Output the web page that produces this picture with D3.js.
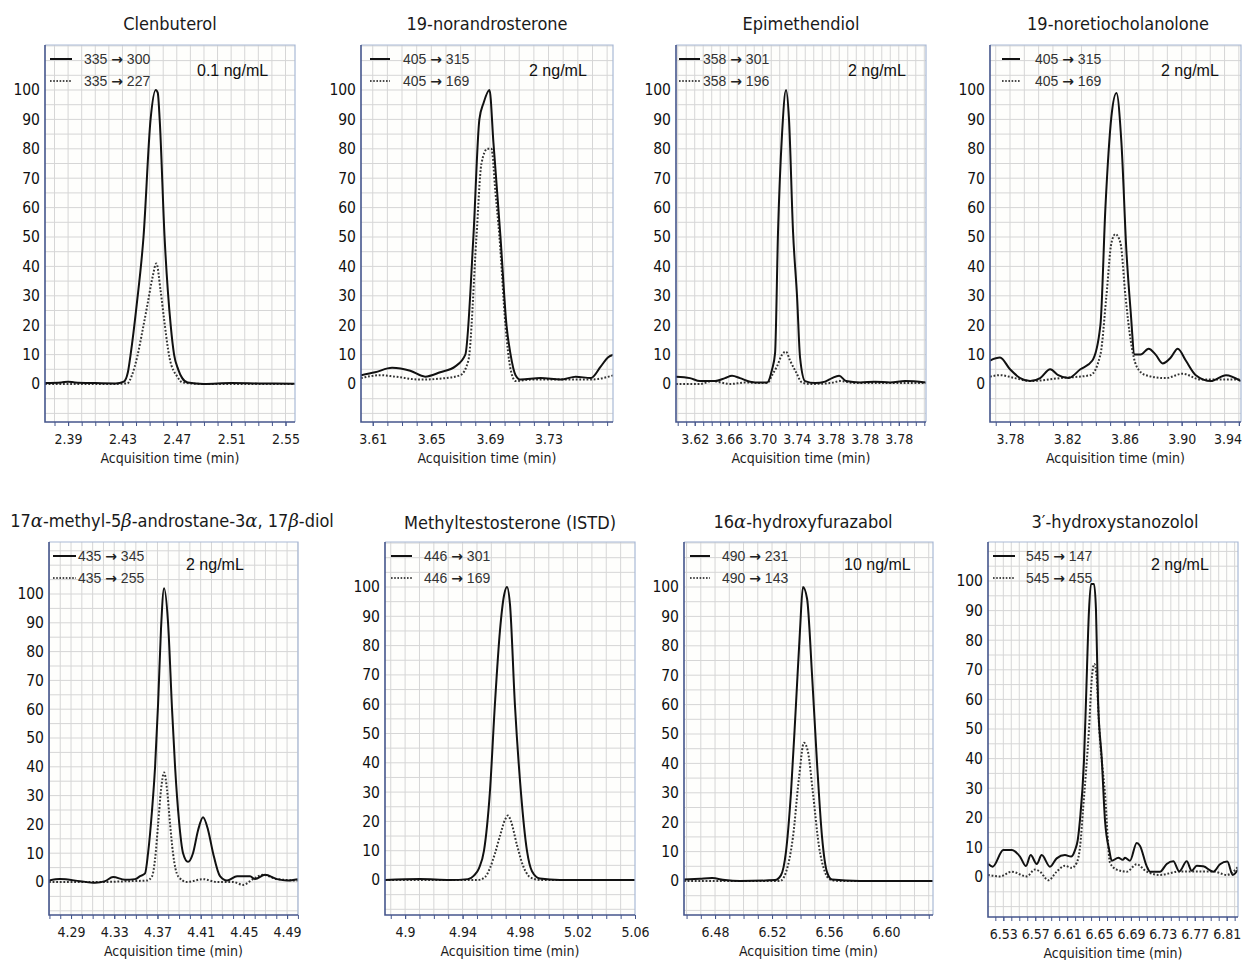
<!DOCTYPE html>
<html>
<head>
<meta charset="utf-8">
<script src="https://cdn.jsdelivr.net/npm/d3@7"></script>
<style>
  body { margin: 0; background: #fff; }
</style>
</head>
<body>
<div id="chart"></div>
<script>
// ---- data (time in min, abundance in %) ----
const compounds = ["Clenbuterol", "19-norandrosterone", "Epimethendiol", "19-noretiocholanolone",
  "17α-methyl-5β-androstane-3α, 17β-diol", "Methyltestosterone (ISTD)", "16α-hydroxyfurazabol", "3′-hydroxystanozolol"];
const transitions = [["335 → 300", "335 → 227"], ["405 → 315", "405 → 169"], ["358 → 301", "358 → 196"],
  ["405 → 315", "405 → 169"], ["435 → 345", "435 → 255"], ["446 → 301", "446 → 169"],
  ["490 → 231", "490 → 143"], ["545 → 147", "545 → 455"]];
const concentrations = ["0.1 ng/mL", "2 ng/mL", "2 ng/mL", "2 ng/mL", "2 ng/mL", "", "10 ng/mL", "2 ng/mL"];
const timeRanges = [[2.373, 2.557], [3.602, 3.774], [3.598, 3.892], [3.766, 3.9415],
  [4.2696, 4.5001], [4.886, 5.060], [6.4582, 6.633], [6.5108, 6.8242]];
const timeTicks = [
  [2.39, 2.43, 2.47, 2.51, 2.55],
  [3.61, 3.65, 3.69, 3.73],
  [3.62, 3.66, 3.70, 3.74, 3.78, 3.82, 3.86],
  [3.78, 3.82, 3.86, 3.90, 3.94],
  [4.29, 4.33, 4.37, 4.41, 4.45, 4.49],
  [4.90, 4.94, 4.98, 5.02, 5.06],
  [6.48, 6.52, 6.56, 6.60],
  [6.53, 6.57, 6.61, 6.65, 6.69, 6.73, 6.77, 6.81]];
const timeTickLabels = [
  ["2.39", "2.43", "2.47", "2.51", "2.55"],
  ["3.61", "3.65", "3.69", "3.73"],
  ["3.62", "3.66", "3.70", "3.74", "3.78", "3.78", "3.78"],
  ["3.78", "3.82", "3.86", "3.90", "3.94"],
  ["4.29", "4.33", "4.37", "4.41", "4.45", "4.49"],
  ["4.9", "4.94", "4.98", "5.02", "5.06"],
  ["6.48", "6.52", "6.56", "6.60"],
  ["6.53", "6.57", "6.61", "6.65", "6.69", "6.73", "6.77", "6.81"]];
const abundanceTicks = [0, 10, 20, 30, 40, 50, 60, 70, 80, 90, 100];

const clenbuterolQuant = [[2.373,0.3],[2.385,0.5],[2.39,0.8],[2.395,0.5],[2.41,0.3],[2.425,0.2],[2.431,0.8],
  [2.434,4],[2.436,10],[2.4405,27],[2.4455,50],[2.4507,90],[2.4545,100],[2.456,99],[2.4574,90],[2.461,50],
  [2.4655,20],[2.468,10],[2.471,5],[2.474,2],[2.478,0.5],[2.49,0],[2.51,0.3],[2.53,0.2],[2.557,0.1]];
const clenbuterolQual = [[2.373,0],[2.42,0],[2.4336,0.2],[2.437,3],[2.441,9.5],[2.4447,18],[2.4484,27],
  [2.452,36],[2.455,41],[2.458,32],[2.461,20.7],[2.4646,9],[2.4705,2.4],[2.4742,0.5],[2.49,0],[2.557,0]];

const norandrosteroneQuant = [[3.602,3],[3.6116,4],[3.6232,5.5],[3.6356,4.5],[3.6458,2.5],[3.6561,4],[3.6664,6],
  [3.6732,10],[3.6787,50],[3.6828,90],[3.6856,95.5],[3.6897,100],[3.6924,82],[3.6972,50],[3.7013,20],
  [3.7041,10],[3.7075,3],[3.7109,1.5],[3.7246,2],[3.7383,1.5],[3.7486,2.5],[3.7589,2],[3.7657,6],[3.7705,9],[3.7746,10]];
const norandrosteroneQual = [[3.602,2],[3.615,3],[3.6253,2.5],[3.6424,1.5],[3.6595,2],[3.6698,3],[3.6753,8],
  [3.6808,50],[3.6842,75],[3.6883,80],[3.691,80],[3.6938,65],[3.6965,50],[3.7006,20],[3.7041,5],[3.7075,1],
  [3.7178,1.5],[3.7383,1.5],[3.7589,1.5],[3.7746,3]];

const epimethendiolQuant = [[3.598,2.5],[3.6145,2],[3.6262,1],[3.6439,1],[3.6556,2],[3.6639,2.8],[3.6733,2],
  [3.6851,0.8],[3.6969,0.5],[3.7051,0.5],[3.711,5],[3.7145,10.5],[3.718,52],[3.7227,85],[3.7274,100],[3.7309,90],
  [3.7356,52],[3.7404,29.5],[3.7439,9],[3.7498,1],[3.7615,0.3],[3.7733,0.8],[3.7815,2],[3.7898,2.8],[3.798,1],
  [3.8145,0.5],[3.8321,0.8],[3.8498,0.5],[3.8674,1],[3.892,0.5]];
const epimethendiolQual = [[3.598,0],[3.6262,0],[3.6404,1],[3.6615,0],[3.6792,0.5],[3.6992,0.3],[3.7062,0.5],
  [3.7109,3],[3.7168,6],[3.7227,10],[3.7274,11],[3.7321,8],[3.7392,4],[3.7462,0.5],[3.7556,0],[3.7792,0.3],
  [3.791,1],[3.8086,0.3],[3.892,0.3]];

const noretiocholanoloneQuant = [[3.766,8],[3.773,9],[3.780,5],[3.7871,2],[3.7941,1],[3.8011,2],[3.8081,5],
  [3.8137,3],[3.8207,2],[3.8292,5],[3.8376,8],[3.8432,20],[3.8467,60],[3.8509,91],[3.8544,99],[3.8579,82],
  [3.8614,45],[3.8643,25],[3.8671,10],[3.8713,10],[3.8769,12],[3.8818,10],[3.8867,7],[3.8924,9],[3.8973,12],
  [3.9029,8],[3.9099,3],[3.9204,1],[3.931,3],[3.9414,1]];
const noretiocholanoloneQual = [[3.766,2.5],[3.773,3],[3.7835,2],[3.7941,1],[3.8151,2],[3.8362,3],[3.8432,10],
  [3.8474,30],[3.8509,48],[3.8537,51],[3.8572,48],[3.8607,30],[3.8643,15],[3.8685,6],[3.8748,3],[3.8888,2],
  [3.9007,3.5],[3.9133,1.5],[3.9414,1.5]];

const methylAndrostanediolQuant = [[4.2696,0.5],[4.2798,1],[4.2983,0.3],[4.3122,-0.3],[4.3215,0.3],[4.3289,1.7],
  [4.34,0.8],[4.3492,1],[4.3539,2],[4.3585,3],[4.3613,10],[4.3650,25],[4.3678,40],[4.3706,62],[4.3733,88],
  [4.3761,102],[4.3798,90],[4.3835,60],[4.3863,40],[4.39,21],[4.3937,10],[4.3983,7],[4.4029,10],[4.4076,18],
  [4.4122,22.5],[4.4169,18],[4.4215,10],[4.4279,2],[4.4344,0.5],[4.4437,2],[4.4557,2],[4.4604,1],[4.4696,2.5],
  [4.4807,1],[4.49,0.5],[4.5001,1]];
const methylAndrostanediolQual = [[4.2696,0],[4.3168,0],[4.3446,0.3],[4.3603,0.5],[4.365,2],[4.3678,8],
  [4.3706,20],[4.3733,32],[4.3761,38],[4.3789,32],[4.3817,20],[4.3844,10],[4.3891,2],[4.3974,0],[4.4122,1],
  [4.4252,0],[4.44,0],[4.4493,-1],[4.4585,1],[4.4678,2.5],[4.4807,1],[4.5001,0.5]];

const methyltestosteroneQuant = [[4.886,0],[4.9103,0.3],[4.9312,0],[4.9437,0.3],[4.9479,1.5],[4.9514,4],
  [4.9549,10],[4.959,30],[4.9625,60],[4.966,85],[4.9688,97],[4.9709,100],[4.973,94],[4.9764,60],[4.9806,30],
  [4.9848,10],[4.9883,3],[4.9938,0.5],[5.0077,0],[5.06,0]];
const methyltestosteroneQual = [[4.886,0],[4.9507,0],[4.9556,1],[4.959,4],[4.9625,9],[4.966,15],[4.9695,20.5],
  [4.9716,22],[4.9737,20],[4.9778,12],[4.982,5],[4.9869,1],[4.9938,0],[5.06,0]];

const hydroxyfurazabolQuant = [[6.4582,0.5],[6.4694,0.8],[6.4779,1],[6.487,0.3],[6.4975,0],[6.5221,0.3],
  [6.5263,2],[6.5298,10],[6.5333,30],[6.5368,60],[6.5396,85],[6.5417,100],[6.5446,96],[6.5481,70],[6.5516,40],
  [6.5551,15],[6.5586,3],[6.5621,0.5],[6.5817,0],[6.633,0]];
const hydroxyfurazabolQual = [[6.4582,0],[6.5256,0],[6.5298,3],[6.5347,15],[6.5389,35],[6.5424,47],[6.5452,44],
  [6.5487,30],[6.5529,12],[6.5572,3],[6.5607,0.5],[6.5677,0],[6.633,0]];

const hydroxystanozololQuant = [[6.5112,4.4],[6.5167,3.5],[6.53,9.1],[6.5405,9.1],[6.5509,6.9],[6.5584,3.7],
  [6.5643,7.4],[6.5719,4.4],[6.5781,7.4],[6.5885,3.5],[6.5969,6.3],[6.6073,7.4],[6.6149,6.9],[6.6199,9.1],
  [6.6233,12.5],[6.6261,19.3],[6.6312,40],[6.6337,60],[6.6374,90],[6.6399,99],[6.6437,99],[6.6462,90],
  [6.6487,60],[6.6534,40],[6.6575,19],[6.6629,9],[6.6659,5.5],[6.6742,6.5],[6.6797,5.8],[6.6826,6.5],
  [6.6888,5.5],[6.6972,11.5],[6.7014,10.5],[6.7098,3.6],[6.7139,1.8],[6.7264,1.8],[6.7348,4.4],[6.7431,5.3],
  [6.7506,1.9],[6.7599,5.3],[6.7662,2.1],[6.7725,3.8],[6.7807,3.6],[6.7933,1.8],[6.8017,4.3],[6.8108,5.2],
  [6.8176,0.7],[6.8242,2.5]];
const hydroxystanozololQual = [[6.5108,0.7],[6.5258,0.2],[6.5405,1.8],[6.5593,0.2],[6.5697,2.5],[6.576,1.8],
  [6.5864,-1.1],[6.5969,1.8],[6.6073,3.8],[6.6157,3.1],[6.622,4.8],[6.6261,10],[6.6303,24],[6.6374,50],
  [6.6412,68],[6.6441,72],[6.6468,68],[6.6503,50],[6.6575,28],[6.6638,4.8],[6.6722,2.5],[6.6847,1.8],
  [6.6972,4.3],[6.7098,1.8],[6.7264,0.7],[6.7515,1.9],[6.7766,1.9],[6.7929,1.9],[6.8101,0.7],[6.8242,3.4]];

const quantTraces = [clenbuterolQuant, norandrosteroneQuant, epimethendiolQuant, noretiocholanoloneQuant,
  methylAndrostanediolQuant, methyltestosteroneQuant, hydroxyfurazabolQuant, hydroxystanozololQuant];
const qualTraces = [clenbuterolQual, norandrosteroneQual, epimethendiolQual, noretiocholanoloneQual,
  methylAndrostanediolQual, methyltestosteroneQual, hydroxyfurazabolQual, hydroxystanozololQual];

// ---- layout (pixels) ----
const layout = [
  {left: 45,  right: 295,  top: 45,  bottom: 422, y0: 384, y100: 90,  titleX: 170,  titleY: 30,  leg: [5, 27, 39],  conc: 152},
  {left: 361, right: 613,  top: 45,  bottom: 422, y0: 384, y100: 90,  titleX: 487,  titleY: 30,  leg: [9, 29, 42],  conc: 168},
  {left: 676, right: 926,  top: 45,  bottom: 422, y0: 384, y100: 90,  titleX: 801,  titleY: 30,  leg: [3, 24, 27],  conc: 172},
  {left: 990, right: 1241, top: 45,  bottom: 422, y0: 384, y100: 90,  titleX: 1118, titleY: 30,  leg: [12, 30, 45], conc: 171},
  {left: 49,  right: 298,  top: 542, bottom: 915, y0: 882, y100: 594, titleX: 172,  titleY: 527, leg: [4, 27, 29],  conc: 137},
  {left: 385, right: 635,  top: 542, bottom: 915, y0: 880, y100: 587, titleX: 510,  titleY: 529, leg: [6, 27, 39],  conc: 0},
  {left: 684, right: 933,  top: 542, bottom: 915, y0: 881, y100: 587, titleX: 803,  titleY: 528, leg: [6, 26, 38],  conc: 160},
  {left: 988, right: 1238, top: 542, bottom: 917, y0: 877, y100: 581, titleX: 1115, titleY: 528, leg: [5, 27, 38],  conc: 163}
];

const narrow = "'DejaVu Sans Condensed', 'Liberation Sans Narrow', sans-serif";
const plain = "'Liberation Sans', Arial, sans-serif";

const svg = d3.select("#chart").append("svg")
  .attr("width", 1244)
  .attr("height", 960)
  .style("font-family", narrow);

layout.forEach((f, i) => {
  const x = d3.scaleLinear().domain(timeRanges[i]).range([f.left, f.right]);
  const y = d3.scaleLinear().domain([0, 100]).range([f.y0, f.y100]);
  const yLo = y.invert(f.bottom), yHi = y.invert(f.top);
  const g = svg.append("g");

  // title, with greek letters in italic
  const title = g.append("text")
    .attr("x", f.titleX).attr("y", f.titleY)
    .attr("text-anchor", "middle")
    .attr("font-size", 18).attr("fill", "#1a1a1a");
  compounds[i].split(/([αβ])/).filter(s => s.length).forEach(s => {
    const t = title.append("tspan").text(s);
    if (s === "α" || s === "β") t.attr("font-family", "'DejaVu Serif', serif").attr("font-style", "italic");
  });

  g.append("rect")
    .attr("x", f.left).attr("y", f.top)
    .attr("width", f.right - f.left).attr("height", f.bottom - f.top)
    .attr("fill", "#fefefc");

  // grid
  const minor = d3.range(Math.ceil(timeRanges[i][0] * 100), Math.floor(timeRanges[i][1] * 100) + 1).map(k => k / 100);
  g.selectAll("line.vg").data(minor).join("line")
    .attr("class", "vg")
    .attr("x1", d => x(d)).attr("x2", d => x(d))
    .attr("y1", f.top).attr("y2", f.bottom)
    .attr("stroke", "#d6d6d6").attr("stroke-width", 1);
  const hgrid = d3.range(Math.ceil(yLo / 5) * 5, yHi, 5);
  g.selectAll("line.hg").data(hgrid).join("line")
    .attr("class", "hg")
    .attr("x1", f.left).attr("x2", f.right)
    .attr("y1", d => y(d)).attr("y2", d => y(d))
    .attr("stroke", "#d6d6d6").attr("stroke-width", 1);

  // traces
  const clipId = "clip" + i;
  g.append("clipPath").attr("id", clipId).append("rect")
    .attr("x", f.left).attr("y", f.top)
    .attr("width", f.right - f.left).attr("height", f.bottom - f.top);
  const line = d3.line().x(d => x(d[0])).y(d => y(d[1])).curve(d3.curveMonotoneX);
  g.append("path").datum(qualTraces[i])
    .attr("clip-path", `url(#${clipId})`)
    .attr("d", line).attr("fill", "none")
    .attr("stroke", "#333").attr("stroke-width", 2).attr("stroke-dasharray", "1.8,1.8");
  g.append("path").datum(quantTraces[i])
    .attr("clip-path", `url(#${clipId})`)
    .attr("d", line).attr("fill", "none")
    .attr("stroke", "#111").attr("stroke-width", 2);

  // frame
  g.append("path")
    .attr("d", `M${f.left},${f.top}H${f.right}V${f.bottom}`)
    .attr("fill", "none").attr("stroke", "#a9b9d6").attr("stroke-width", 1.2);
  g.append("path")
    .attr("d", `M${f.left},${f.top}V${f.bottom}H${f.right}`)
    .attr("fill", "none").attr("stroke", "#45568c").attr("stroke-width", 1.6);

  // y axis
  const ya = g.append("g").attr("transform", `translate(${f.left},0)`)
    .call(d3.axisLeft(y).tickValues(abundanceTicks).tickSize(0).tickPadding(5));
  ya.select(".domain").remove();
  ya.selectAll("text").attr("font-size", 15.5).attr("fill", "#111").style("font-family", narrow);

  // x axis: minor ticks, then labelled ticks
  const xm = g.append("g").attr("transform", `translate(0,${f.bottom})`)
    .call(d3.axisBottom(x).tickValues(minor).tickSize(4).tickFormat(""));
  xm.select(".domain").remove();
  xm.selectAll("line").attr("stroke", "#45568c");
  const xa = g.append("g").attr("transform", `translate(0,${f.bottom})`)
    .call(d3.axisBottom(x).tickValues(timeTicks[i]).tickSize(4).tickPadding(8)
      .tickFormat((d, k) => timeTickLabels[i][k]));
  xa.select(".domain").remove();
  xa.selectAll("line").attr("stroke", "#45568c");
  xa.selectAll("text").attr("font-size", 14).attr("fill", "#1a1a1a").style("font-family", narrow);
  // keep labels that sit at the picture's right edge inside it
  xa.selectAll("text").each(function () {
    const tick = this.parentNode.getAttribute("transform").match(/translate\(([-\d.]+)/);
    const cx = +tick[1], w = this.getComputedTextLength();
    if (cx + w / 2 > 1242) d3.select(this).attr("x", 1242 - w / 2 - cx);
  });

  g.append("text")
    .attr("x", (f.left + f.right) / 2).attr("y", f.bottom + 41)
    .attr("text-anchor", "middle").attr("font-size", 14).attr("fill", "#1a1a1a")
    .text("Acquisition time (min)");

  // legend
  const styles = [null, "1.6,1.6"];
  transitions[i].forEach((lab, k) => {
    const base = f.top + 19 + k * 22;
    g.append("line")
      .attr("x1", f.left + f.leg[0]).attr("x2", f.left + f.leg[1])
      .attr("y1", base - 5).attr("y2", base - 5)
      .attr("stroke", "#111").attr("stroke-width", k ? 1.5 : 2)
      .attr("stroke-dasharray", styles[k]);
    const t = g.append("text")
      .attr("x", f.left + f.leg[2]).attr("y", base)
      .attr("font-family", plain).attr("font-size", 14).attr("fill", "#333");
    lab.split(/(→)/).forEach(s => {
      const sp = t.append("tspan").text(s);
      if (s === "→") sp.attr("font-family", "'DejaVu Sans', sans-serif").attr("font-weight", "bold").attr("fill", "#222");
    });
  });

  if (concentrations[i]) {
    g.append("text")
      .attr("x", f.left + f.conc).attr("y", f.top + (i < 4 ? 31 : 28))
      .attr("font-family", plain).attr("font-size", 16).attr("fill", "#111")
      .text(concentrations[i]);
  }
});
</script>
</body>
</html>
